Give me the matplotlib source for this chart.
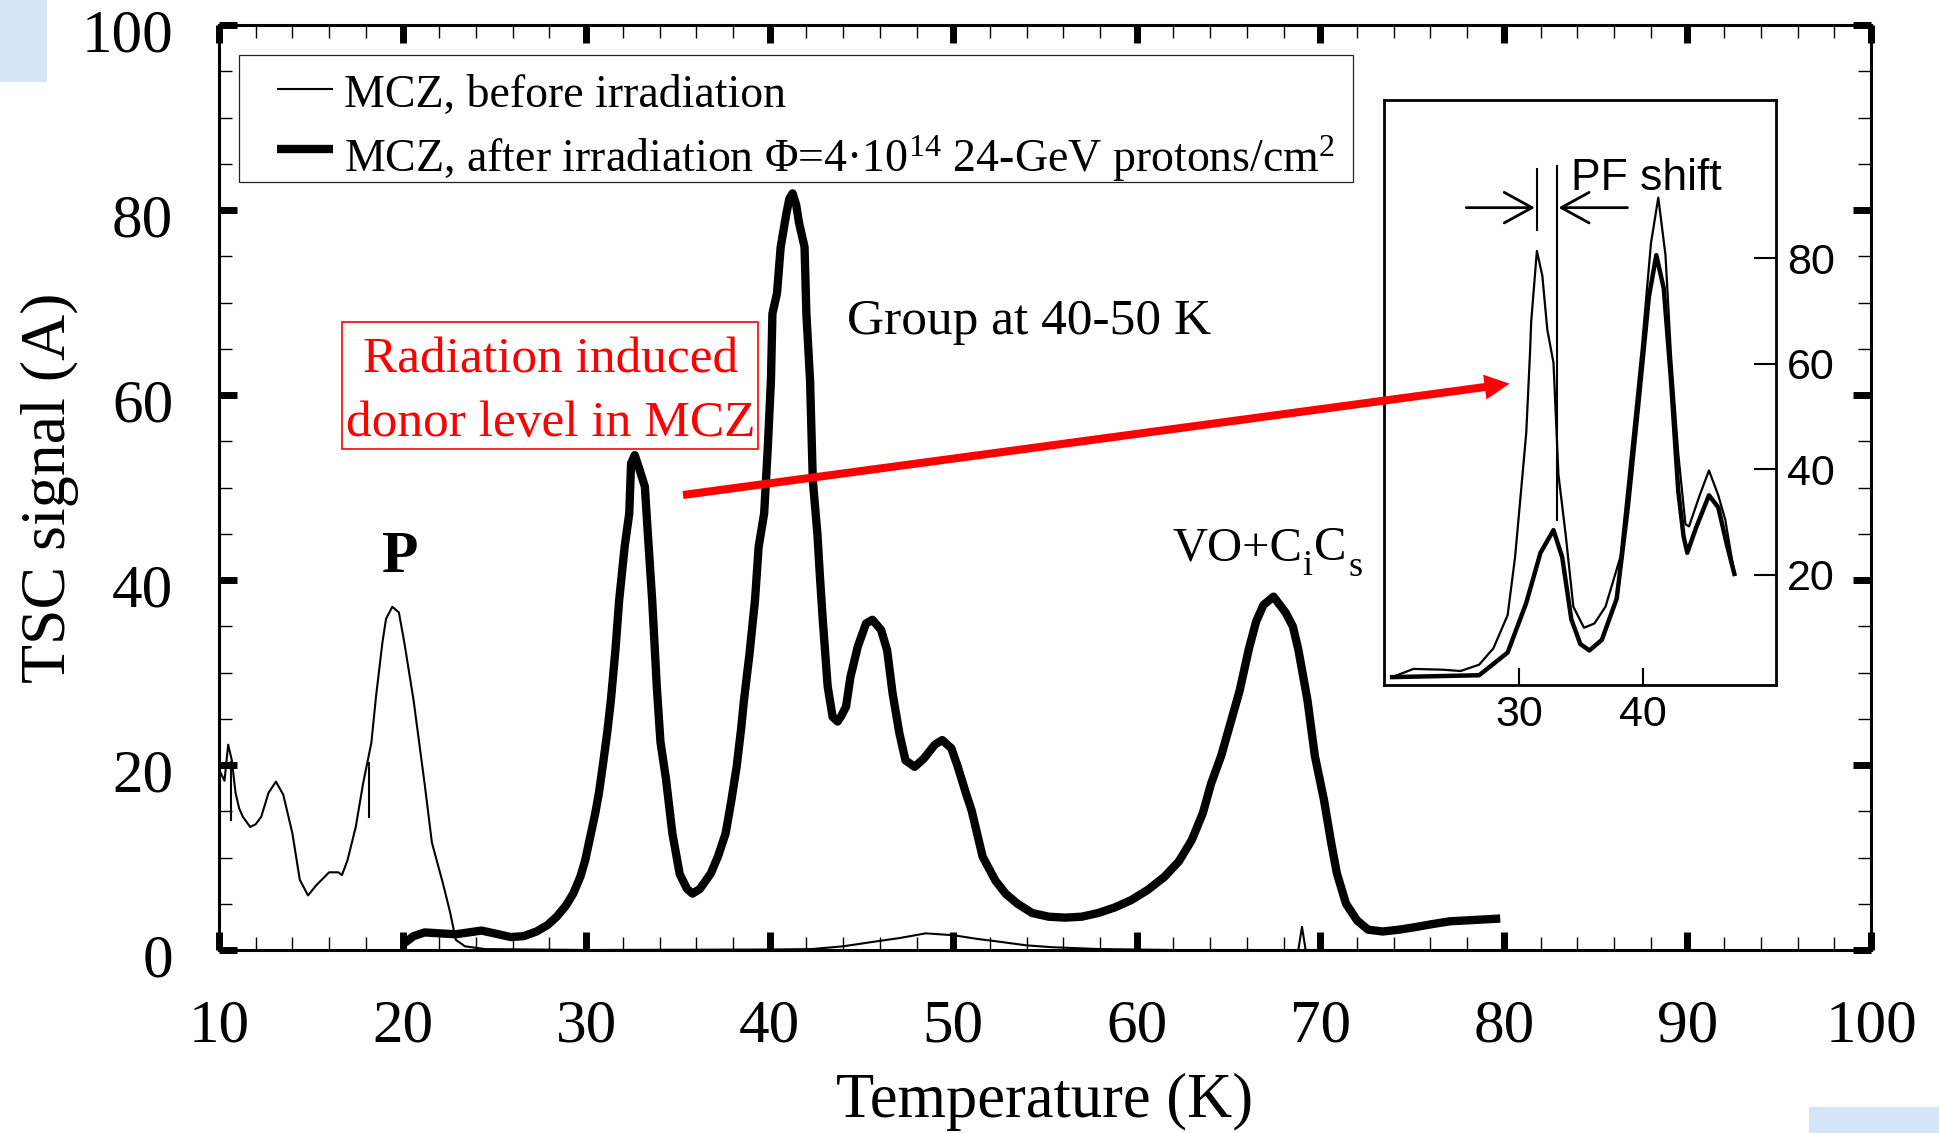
import matplotlib
matplotlib.use('Agg')
import matplotlib.pyplot as plt
from matplotlib.patches import Rectangle, FancyArrowPatch
from matplotlib.lines import Line2D
from matplotlib.ticker import MultipleLocator
from matplotlib.transforms import ScaledTranslation

# ---------------- data ----------------
series_labels = ["MCZ, before irradiation",
                 "MCZ, after irradiation \u03a6=4\u00b710$^{14}$ 24-GeV protons/cm$^{2}$"]

before_x = [10.0, 10.3, 10.5, 10.7, 10.9, 11.1, 11.3, 11.7, 12.0, 12.3, 12.7, 13.1, 13.5,
            14.0, 14.4, 14.85, 15.3, 16.0, 16.5, 16.7, 17.0, 17.45, 17.85, 18.3, 18.56,
            18.9, 19.1, 19.44, 19.8, 20.1, 20.6, 21.2, 21.6, 22.2, 22.6, 22.9, 23.4, 24.5,
            30.0, 40.0, 42.3, 44.0, 45.7, 47.1, 48.5, 50.0, 51.3, 52.5, 54.0, 55.4, 58.0,
            62.0, 68.8, 69.0, 69.2, 71.0]
before_y = [19.5, 18.3, 22.2, 20.5, 17.0, 15.3, 14.4, 13.3, 13.6, 14.4, 17.0, 18.2, 16.8,
            12.6, 7.6, 5.9, 7.0, 8.4, 8.4, 8.1, 9.7, 13.3, 18.0, 22.4, 27.5,
            33.2, 35.8, 37.1, 36.5, 33.2, 27.0, 18.0, 11.6, 7.2, 4.0, 1.1, 0.4, 0.1,
            0.0, 0.05, 0.1, 0.4, 0.9, 1.3, 1.8, 1.6, 1.2, 0.9, 0.5, 0.3, 0.1,
            0.0, 0.0, 2.5, 0.0, 0.0]
glitch1_x = [10.65, 10.65]
glitch1_y = [14.1, 20.3]
glitch2_x = [18.15, 18.15]
glitch2_y = [14.4, 20.2]

after_x = [20.0, 20.6, 21.2, 22.0, 22.9, 23.6, 24.3, 25.0, 25.9, 26.6, 27.3, 27.9, 28.4,
           28.9, 29.3, 29.7, 29.95, 30.2, 30.5, 30.7, 30.9, 31.15, 31.35, 31.6, 31.8,
           32.1, 32.35, 32.45, 32.65, 32.9, 33.2, 33.35, 33.6, 33.85, 34.05, 34.35, 34.7,
           35.1, 35.5, 35.8, 36.2, 36.8, 37.2, 37.6, 37.9, 38.2, 38.45, 38.6, 38.9, 39.2,
           39.4, 39.7, 39.9, 40.07, 40.15, 40.4, 40.6, 40.9, 41.07, 41.25, 41.45, 41.6,
           41.9, 42.0, 42.2, 42.35, 42.6, 42.75, 42.9, 43.16, 43.43, 43.7, 43.9, 44.16,
           44.4, 44.8, 45.25, 45.6, 46.07, 46.4, 46.7, 47.07, 47.4, 47.9, 48.4, 49.0,
           49.4, 49.9, 50.25, 50.7, 51.0, 51.6, 52.3, 52.85, 53.5, 54.3, 55.2, 56.1,
           57.0, 57.9, 58.8, 59.7, 60.6, 61.5, 62.3, 63.0, 63.6, 64.05, 64.6, 65.1,
           65.6, 66.1, 66.5, 66.9, 67.45, 68.1, 68.5, 68.8, 69.3, 69.7, 70.2, 70.6,
           70.9, 71.4, 72.0, 72.6, 73.4, 74.3, 75.25, 76.1, 77.05, 78.0, 79.0, 79.8]
after_y = [0.6, 1.5, 1.9, 1.8, 1.7, 1.9, 2.1, 1.8, 1.4, 1.5, 2.0, 2.7, 3.6,
           4.8, 6.1, 8.0, 9.7, 12.0, 14.8, 17.0, 19.8, 23.5, 27.0, 32.5, 37.8,
           43.6, 47.2, 52.6, 53.5, 52.0, 50.1, 45.4, 37.8, 28.5, 22.5, 18.5, 12.6,
           8.2, 6.6, 6.1, 6.6, 8.3, 10.2, 12.6, 16.0, 19.8, 24.0, 27.0, 32.0, 37.8,
           43.6, 47.2, 54.4, 61.6, 68.8, 71.0, 76.0, 79.5, 81.2, 81.8, 80.5, 78.6,
           76.0, 68.8, 61.6, 50.8, 45.0, 40.0, 35.5, 28.5, 25.2, 24.7, 25.3, 26.3,
           29.5, 32.8, 35.3, 35.7, 34.6, 32.4, 27.7, 23.4, 20.5, 19.8, 20.7, 22.2,
           22.7, 21.8, 19.8, 16.9, 15.1, 10.1, 7.5, 6.1, 5.0, 4.0, 3.6, 3.5,
           3.6, 4.0, 4.6, 5.4, 6.5, 7.9, 9.6, 11.9, 14.8, 18.0, 21.0, 24.5,
           28.0, 32.5, 35.5, 37.3, 38.2, 36.5, 35.0, 32.5, 27.0, 21.0, 16.2, 11.5,
           8.3, 5.0, 3.2, 2.2, 2.0, 2.2, 2.5, 2.8, 3.1, 3.2, 3.3, 3.4]

inset_thin_x = [19.77, 21.5, 23.86, 25.3, 26.8, 27.95, 29.1, 29.7, 30.15, 30.6, 30.9, 31.0,
                31.46, 31.9, 32.3, 32.8, 33.2, 33.8, 34.4, 35.26, 36.1, 37.0, 38.2, 39.06,
                39.94, 40.67, 41.26, 41.84, 42.28, 42.87, 43.45, 43.74, 44.6, 45.35, 46.1,
                46.67, 47.4]
inset_thin_y = [0.64, 2.2, 2.05, 1.8, 3.0, 6.1, 12.4, 23.4, 35.1, 46.9, 61.8, 68.0,
                81.4, 76.7, 66.5, 60.2, 39.0, 27.3, 14.0, 10.0, 10.8, 14.0, 23.4, 43.0,
                63.3, 82.9, 91.5, 80.6, 61.8, 43.0, 29.6, 29.2, 35.1, 39.8, 35.1,
                30.4, 20.2]
inset_thick_x = [19.77, 26.8, 29.1, 30.6, 31.75, 32.8, 33.5, 34.24, 34.97, 35.7, 36.7,
                 37.9, 38.8, 39.65, 40.5, 41.1, 41.7, 42.28, 42.87, 43.3, 43.6, 44.3,
                 45.35, 46.1, 46.8, 47.4]
inset_thick_y = [0.64, 1.0, 5.3, 14.7, 24.2, 28.5, 23.4, 11.6, 6.9, 5.7, 7.7,
                 15.5, 32.8, 52.4, 72.7, 80.6, 74.3, 57.0, 35.9, 27.3, 24.2, 28.9,
                 35.1, 32.8, 25.7, 20.2]

x_ticks = [10, 20, 30, 40, 50, 60, 70, 80, 90, 100]
y_ticks = [0, 20, 40, 60, 80, 100]
inset_x_ticks = [30, 40]
inset_y_ticks = [20, 40, 60, 80]

# ---------------- figure ----------------
plt.rcParams['font.family'] = ['Liberation Serif', 'DejaVu Serif']
plt.rcParams['mathtext.fontset'] = 'custom'
plt.rcParams['mathtext.rm'] = 'Liberation Serif'
plt.rcParams['mathtext.it'] = 'Liberation Serif:italic'
plt.rcParams['mathtext.bf'] = 'Liberation Serif:bold'

W, H = 1939, 1133
fig = plt.figure(figsize=(W / 100, H / 100), dpi=100)
fig.patch.set_facecolor('white')

# light-blue slide background fragments in the corners
fig.add_artist(Rectangle((0, 1 - 82 / H), 47 / W, 82 / H, transform=fig.transFigure,
                         facecolor='#d3e5f7', edgecolor='none', zorder=-5))
fig.add_artist(Rectangle((1809 / W, 0), (W - 1809) / W, 26 / H, transform=fig.transFigure,
                         facecolor='#d3e5f7', edgecolor='none', zorder=-5))

L, R, T, B = 219, 1871, 25, 950
ax = fig.add_axes([L / W, 1 - B / H, (R - L) / W, (B - T) / H])

ax.plot(before_x, before_y, color='black', lw=1.5, solid_joinstyle='round')
ax.plot(glitch1_x, glitch1_y, color='black', lw=1.5)
ax.plot(glitch2_x, glitch2_y, color='black', lw=1.5)
ax.plot(after_x, after_y, color='black', lw=6, solid_joinstyle='round', solid_capstyle='butt')

ax.set_xlim(10, 100)
ax.set_ylim(0, 100)
ax.set_xticks(x_ticks)
ax.set_yticks(y_ticks)
ax.xaxis.set_minor_locator(MultipleLocator(2))
ax.yaxis.set_minor_locator(MultipleLocator(5))
ax.tick_params(which='both', direction='in', top=True, right=True)
ax.tick_params(which='major', length=13, width=5)
ax.tick_params(which='minor', length=9.4, width=1.0)
ax.tick_params(axis='x', which='major', labelsize=44, pad=35)
ax.tick_params(axis='y', which='major', labelsize=44, pad=33)
for s in ax.spines.values():
    s.set_linewidth(2.2)
shift_down = ScaledTranslation(0, -5 / 100, fig.dpi_scale_trans)
for lab in ax.get_yticklabels():
    lab.set_transform(lab.get_transform() + shift_down)

ax.set_xlabel('Temperature (K)', fontsize=45)
ax.set_ylabel('TSC signal (A)', fontsize=46)
ax.xaxis.label.set_va('bottom')
ax.xaxis.set_label_coords(0.5, (B - 1131) / (B - T))
ax.yaxis.set_label_coords((79 - L) / (R - L), 0.5)


def axc(px, py):
    return ((px - L) / (R - L), (B - py) / (B - T))


# legend (drawn manually to match the original frame)
x0, y0 = axc(239, 182)
x1, y1 = axc(1353, 55)
ax.add_patch(Rectangle((x0, y0), x1 - x0, y1 - y0, transform=ax.transAxes,
                       facecolor='white', edgecolor='#222222', lw=0.9, zorder=4))
for (py_line, py_text, lw, lab) in [(89, 107, 1.5, series_labels[0]),
                                     (149, 172, 6, series_labels[1])]:
    ha, ya = axc(277, py_line)
    hb, _ = axc(333, py_line)
    ax.add_line(Line2D([ha, hb], [ya, ya], transform=ax.transAxes, color='black',
                       lw=lw, solid_capstyle='butt', zorder=5))
    tx, ty = axc(344, py_text)
    ax.text(tx, ty, lab, transform=ax.transAxes, fontsize=33, ha='left',
            va='baseline', zorder=5)

# red box annotation
ax.add_patch(Rectangle((16.68, 54.13), 39.38 - 16.68, 67.86 - 54.13, facecolor='none',
                       edgecolor='red', lw=1.2, zorder=3))
ax.text(28.05, 62.38, 'Radiation induced', color='red', fontsize=37, ha='center',
        va='baseline')
ax.text(28.05, 55.6, 'donor level in MCZ', color='red', fontsize=37, ha='center',
        va='baseline')

ax.text(44.21, 66.6, 'Group at 40-50 K', fontsize=37, ha='left', va='baseline')
ax.text(19.86, 40.9, 'P', fontsize=43, fontweight='bold', ha='center', va='baseline')

# VO+CiCs with low-set subscripts, each piece chained to the right edge of the previous
t_main = ax.text(61.92, 42.16, 'VO+C', fontsize=35, ha='left', va='baseline')
t_i = ax.annotate('i', xy=(1, 40.5), xycoords=(t_main, 'data'), xytext=(0.5, 0),
                  textcoords='offset points', fontsize=26, ha='left', va='baseline')
t_c = ax.annotate('C', xy=(1, 42.16), xycoords=(t_i, 'data'), xytext=(0.5, 0),
                  textcoords='offset points', fontsize=35, ha='left', va='baseline')
t_s = ax.annotate('s', xy=(1, 40.4), xycoords=(t_c, 'data'), xytext=(1.5, 0),
                  textcoords='offset points', fontsize=26, ha='left', va='baseline')

# ---------------- inset ----------------
IL, IR, IT, IB = 1384, 1776, 100, 685
ax2 = fig.add_axes([IL / W, 1 - IB / H, (IR - IL) / W, (IB - IT) / H])
ax2.plot(inset_thin_x, inset_thin_y, color='black', lw=1.6, solid_joinstyle='round')
ax2.plot(inset_thick_x, inset_thick_y, color='black', lw=3.2, solid_joinstyle='round')
ax2.set_xlim(19.12, 50.76)
ax2.set_ylim(-0.85, 110)
ax2.set_xticks(inset_x_ticks)
ax2.set_yticks(inset_y_ticks)
ax2.yaxis.tick_right()
ax2.tick_params(axis='y', direction='in', length=16, width=1.5, pad=8, labelsize=31,
                left=False, right=True, labelleft=False, labelright=True)
ax2.tick_params(axis='x', direction='in', length=12, width=1.5, pad=7, labelsize=31)
for lab in ax2.get_xticklabels() + ax2.get_yticklabels():
    lab.set_fontfamily(['Liberation Sans', 'DejaVu Sans'])
for s in ax2.spines.values():
    s.set_linewidth(2.0)

# PF shift marks
ax2.plot([31.46, 31.46], [85.3, 97.0], color='black', lw=1.5)
ax2.plot([33.07, 33.07], [30.4, 97.4], color='black', lw=1.5)
for (xa, xb) in [(25.76, 31.3), (38.77, 33.2)]:
    ax2.annotate('', xy=(xb, 89.6), xytext=(xa, 89.6),
                 arrowprops=dict(arrowstyle='->,head_length=20,head_width=11',
                                 mutation_scale=1, lw=2.0, color='black',
                                 shrinkA=0, shrinkB=0))
ax2.text(34.24, 93.0, 'PF shift', fontsize=32, family=['Liberation Sans', 'DejaVu Sans'],
         ha='left', va='baseline')

# red arrow from the main plot into the inset
arrow = FancyArrowPatch((35.28, 49.19), (80.31, 61.22), transform=ax.transData,
                        arrowstyle='simple,head_length=18,head_width=18,tail_width=5.8',
                        mutation_scale=1, facecolor='red', edgecolor='none',
                        shrinkA=0, shrinkB=0, zorder=10)
fig.add_artist(arrow)

fig.savefig('out.png', dpi=100)
